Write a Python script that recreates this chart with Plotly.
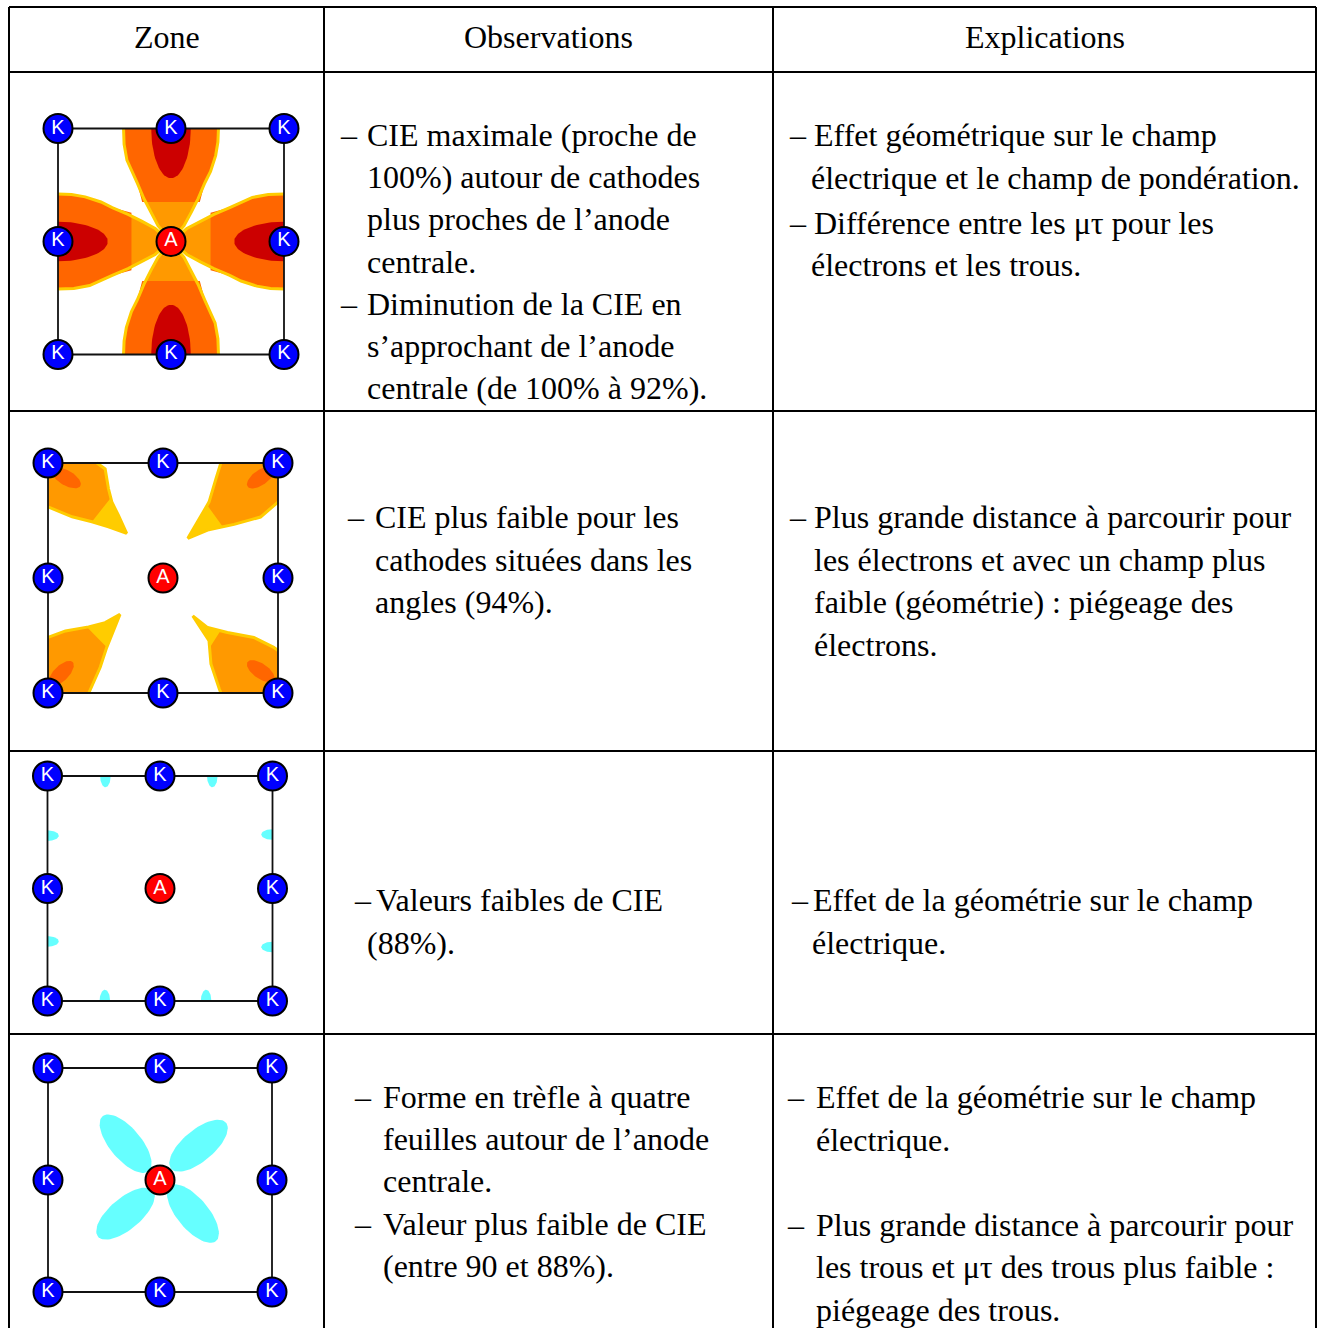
import numpy as np
import plotly.graph_objects as go

# the page margin is removed (post_script below), so figure pixels = window pixels
OFF = 0
W, H = 1320, 1328
SERIF = "Liberation Serif, Times New Roman, serif"
SANS = "Liberation Sans, Arial, sans-serif"

# ---------------- table content ----------------
HEADERS = ["Zone", "Observations", "Explications"]
COL_EDGES = [9, 324, 773, 1316]
ROW_EDGES = [7, 72, 411, 751, 1034]

OBS_TEXT = [
    [["CIE maximale (proche de", "100%) autour de cathodes", "plus proches de l’anode", "centrale."],
     ["Diminution de la CIE en", "s’approchant de l’anode", "centrale (de 100% à 92%)."]],
    [["CIE plus faible pour les", "cathodes situées dans les", "angles (94%)."]],
    [["Valeurs faibles de CIE", "(88%)."]],
    [["Forme en trèfle à quatre", "feuilles autour de l’anode", "centrale."],
     ["Valeur plus faible de CIE", "(entre 90 et 88%)."]],
]
EXP_TEXT = [
    [["Effet géométrique sur le champ", "électrique et le champ de pondération."],
     ["Différence entre les μτ pour les", "électrons et les trous."]],
    [["Plus grande distance à parcourir pour", "les électrons et avec un champ plus",
      "faible (géométrie) : piégeage des", "électrons."]],
    [["Effet de la géométrie sur le champ", "électrique."]],
    [["Effet de la géométrie sur le champ", "électrique."],
     ["Plus grande distance à parcourir pour", "les trous et μτ des trous plus faible :",
      "piégeage des trous."]],
]

# layout of text in cells (window pixels)
OBS_LAYOUT = [
    dict(y0=135, pitch=42.2, gap=0, dash_x=338, text_x=365, cont_x=365),
    dict(y0=517, pitch=42.5, gap=0, dash_x=345, text_x=373, cont_x=373),
    dict(y0=900, pitch=42.5, gap=0, dash_x=352, text_x=374, cont_x=365),
    dict(y0=1097, pitch=42.2, gap=0, dash_x=352, text_x=381, cont_x=381),
]
EXP_LAYOUT = [
    dict(y0=135, pitch=42.5, gap=2.5, dash_x=787, text_x=812, cont_x=809),
    dict(y0=517, pitch=42.7, gap=0, dash_x=787, text_x=812, cont_x=812),
    dict(y0=900, pitch=42.5, gap=0, dash_x=789, text_x=811, cont_x=810),
    dict(y0=1097, pitch=42.6, gap=42.6, dash_x=785, text_x=814, cont_x=814),
]

# ---------------- diagrams data (normalized square -1..1) ----------------
K_X = [-1, 0, 1, -1, 1, -1, 0, 1]
K_Y = [1, 1, 1, 0, 0, -1, -1, -1]
A_X = [0]
A_Y = [0]

# diagram 1: petal (pointing +v), local coords
PETAL_U = [-0.42, -0.415, -0.39, -0.34, -0.30, -0.24, -0.18, -0.115, -0.05, 0.0,
           0.05, 0.115, 0.18, 0.24, 0.30, 0.35, 0.395, 0.415, 0.42]
PETAL_V = [1.0, 0.86, 0.72, 0.60, 0.52, 0.38, 0.26, 0.14, 0.065, 0.05,
           0.065, 0.14, 0.26, 0.38, 0.52, 0.62, 0.76, 0.88, 1.0]
DARK_U = [-0.42, -0.415, -0.39, -0.34, -0.30, -0.255, 0.255, 0.30, 0.35, 0.395, 0.415, 0.42]
DARK_V = [1.0, 0.86, 0.72, 0.60, 0.52, 0.35, 0.35, 0.52, 0.62, 0.76, 0.88, 1.0]
RED_HALF_U = 0.175
RED_HALF_V = 0.44
PETAL_DIRS = [90, 270, 180, 0]

# diagram 2: corner blobs (border path from edge to edge + corner)
CORNER_BLOBS = [
    dict(bx=[-0.575, -0.503, -0.474, -0.445, -0.388, -0.316, -0.474, -0.618, -0.79, -1.0],
         by=[1.0, 0.948, 0.776, 0.661, 0.546, 0.388, 0.445, 0.489, 0.532, 0.618],
         corner=(-1, 1),
         yx=[-0.46, -0.445, -0.388, -0.316, -0.474, -0.618],
         yy=[0.69, 0.661, 0.546, 0.388, 0.445, 0.489],
         ell=(-0.84, 0.87, 0.14, 0.065, -30)),
    dict(bx=[1.0, 0.963, 0.848, 0.618, 0.388, 0.216, 0.316, 0.40, 0.46, 0.503],
         by=[0.66, 0.63, 0.53, 0.466, 0.417, 0.345, 0.517, 0.66, 0.862, 1.0],
         corner=(1, 1),
         yx=[0.39, 0.316, 0.216, 0.388, 0.52],
         yy=[0.625, 0.517, 0.345, 0.417, 0.446],
         ell=(0.85, 0.875, 0.14, 0.065, 35)),
    dict(bx=[-1.0, -0.848, -0.647, -0.503, -0.374, -0.431, -0.489, -0.546, -0.632, -0.645],
         by=[-0.517, -0.46, -0.425, -0.388, -0.316, -0.46, -0.603, -0.776, -0.977, -1.0],
         corner=(-1, -1),
         yx=[-0.66, -0.503, -0.374, -0.431, -0.489],
         yy=[-0.428, -0.388, -0.316, -0.46, -0.603],
         ell=(-0.885, -0.83, 0.14, 0.065, 45)),
    dict(bx=[0.503, 0.489, 0.417, 0.40, 0.259, 0.388, 0.56, 0.79, 0.963, 1.0],
         by=[-1.0, -0.963, -0.747, -0.546, -0.33, -0.431, -0.474, -0.517, -0.603, -0.63],
         corner=(1, -1),
         yx=[0.259, 0.388, 0.50, 0.41, 0.40],
         yy=[-0.33, -0.431, -0.459, -0.60, -0.546],
         ell=(0.85, -0.81, 0.14, 0.065, -35)),
]

# diagram 3: small cyan drops on the edges
EDGE_TOP_X = [-0.485, 0.465]
EDGE_BOTTOM_X = [-0.49, 0.41]
EDGE_LEFT_Y = [0.47, -0.47]
EDGE_RIGHT_Y = [0.48, -0.52]
DROP_HALF_W = 0.047
DROP_DEPTH = 0.10

# diagram 4: four leaves
LEAF_CX = [-0.307, 0.344, -0.308, 0.294]
LEAF_CY = [0.324, 0.306, -0.30, -0.30]
LEAF_ANG = [130, 40, 40, 130]
LEAF_A = 0.32
LEAF_B = 0.14

# diagram placement (center px, half-size px, window coords)
DIAGRAMS = [(171, 241.5, 113), (163, 578, 115), (160, 888.5, 112.5), (160, 1180, 112)]
RNG = 1.15

C_DARKRED = "#CC0000"
C_ORANGE = "#FF6600"
C_LIGHT = "#FF9900"
C_YELLOW = "#FFCC00"
C_CYAN = "#66FFFF"


def ell(cx, cy, a, b, ang, t0=0.0, t1=2 * np.pi, n=72):
    t = np.linspace(t0, t1, n)
    ca, sa = np.cos(np.radians(ang)), np.sin(np.radians(ang))
    x = cx + a * np.cos(t) * ca - b * np.sin(t) * sa
    y = cy + a * np.cos(t) * sa + b * np.sin(t) * ca
    return x, y


def rot(u, v, phi):
    d = np.array([np.cos(np.radians(phi)), np.sin(np.radians(phi))])
    p = np.array([d[1], -d[0]])
    u = np.asarray(u, float)
    v = np.asarray(v, float)
    return u * p[0] + v * d[0], u * p[1] + v * d[1]


fig = go.Figure()


def poly(x, y, color, ax):
    fig.add_trace(go.Scatter(x=list(x), y=list(y), mode="lines", fill="toself",
                             fillcolor=color, line=dict(width=0, color=color),
                             hoverinfo="skip", showlegend=False, xaxis=ax[0], yaxis=ax[1]))


def path(x, y, color, width, ax, clip=True):
    fig.add_trace(go.Scatter(x=list(x), y=list(y), mode="lines",
                             line=dict(width=width, color=color), cliponaxis=clip,
                             hoverinfo="skip", showlegend=False, xaxis=ax[0], yaxis=ax[1]))


# ---------------- table grid ----------------
lx, ly = [], []
for y in ROW_EDGES:
    lx += [COL_EDGES[0], COL_EDGES[-1], None]
    ly += [y, y, None]
for x in COL_EDGES:
    lx += [x, x, None]
    ly += [ROW_EDGES[0], 1340, None]
path(lx, ly, "black", 2, ("x", "y"))

annotations = []
for i, htxt in enumerate(HEADERS):
    annotations.append(dict(x=(COL_EDGES[i] + COL_EDGES[i + 1]) / 2, y=37, text=htxt,
                            xref="x", yref="y", showarrow=False, xanchor="center",
                            yanchor="middle", font=dict(family=SERIF, size=32, color="black")))


def add_cell(bullets, lay):
    y = lay["y0"]
    for bi, bullet in enumerate(bullets):
        if bi > 0:
            y += lay["gap"]
        for li, line in enumerate(bullet):
            if li == 0:
                annotations.append(dict(x=lay["dash_x"], y=y, text="–", xref="x", yref="y",
                                        showarrow=False, xanchor="left", yanchor="middle",
                                        font=dict(family=SERIF, size=32, color="black")))
            annotations.append(dict(x=lay["text_x"] if li == 0 else lay["cont_x"], y=y, text=line,
                                    xref="x", yref="y", showarrow=False, xanchor="left",
                                    yanchor="middle",
                                    font=dict(family=SERIF, size=32, color="black")))
            y += lay["pitch"]


for r in range(4):
    add_cell(OBS_TEXT[r], OBS_LAYOUT[r])
    add_cell(EXP_TEXT[r], EXP_LAYOUT[r])

# ---------------- diagrams ----------------
AX = [("x2", "y2"), ("x3", "y3"), ("x4", "y4"), ("x5", "y5")]

# diagram 1
ax = AX[0]
for phi in PETAL_DIRS:
    x, y = rot(PETAL_U, PETAL_V, phi)
    poly(x, y, C_LIGHT, ax)
    x, y = rot(DARK_U, DARK_V, phi)
    poly(x, y, C_ORANGE, ax)
    t = np.linspace(0, np.pi, 50)
    x, y = rot(RED_HALF_U * np.cos(t), 1 - RED_HALF_V * np.sin(t), phi)
    poly(x, y, C_DARKRED, ax)
    x, y = rot(PETAL_U, PETAL_V, phi)
    path(x, y, C_YELLOW, 3, ax)

# diagram 2
ax = AX[1]
for b in CORNER_BLOBS:
    fx = b["bx"] + [b["corner"][0]]
    fy = b["by"] + [b["corner"][1]]
    poly(fx, fy, C_LIGHT, ax)
    poly(b["yx"], b["yy"], C_YELLOW, ax)
    ex, ey = ell(*b["ell"])
    poly(np.clip(ex, -1, 1), np.clip(ey, -1, 1), C_ORANGE, ax)
    path(b["bx"], b["by"], C_YELLOW, 3, ax)

# diagram 3
ax = AX[2]
t = np.linspace(0, np.pi, 40)
for x0 in EDGE_TOP_X:
    poly(x0 + DROP_HALF_W * np.cos(t), 1 - DROP_DEPTH * np.sin(t), C_CYAN, ax)
for x0 in EDGE_BOTTOM_X:
    poly(x0 + DROP_HALF_W * np.cos(t), -1 + DROP_DEPTH * np.sin(t), C_CYAN, ax)
for y0 in EDGE_LEFT_Y:
    poly(-1 + DROP_DEPTH * np.sin(t), y0 + DROP_HALF_W * np.cos(t), C_CYAN, ax)
for y0 in EDGE_RIGHT_Y:
    poly(1 - DROP_DEPTH * np.sin(t), y0 + DROP_HALF_W * np.cos(t), C_CYAN, ax)

# diagram 4
ax = AX[3]
for cx, cy, ang in zip(LEAF_CX, LEAF_CY, LEAF_ANG):
    ex, ey = ell(cx, cy, LEAF_A, LEAF_B, ang)
    poly(ex, ey, C_CYAN, ax)

# squares and electrodes
for ax in AX:
    path([-1, 1, 1, -1, -1], [1, 1, -1, -1, 1], "#111111", 1.8, ax, clip=False)
    fig.add_trace(go.Scatter(x=K_X, y=K_Y, mode="markers+text", text=["K"] * len(K_X),
                             textposition="middle center",
                             textfont=dict(family=SANS, size=20, color="white"),
                             marker=dict(size=29, color="#0000FF", line=dict(width=2, color="black")),
                             cliponaxis=False, hoverinfo="skip", showlegend=False,
                             xaxis=ax[0], yaxis=ax[1]))
    fig.add_trace(go.Scatter(x=A_X, y=A_Y, mode="markers+text", text=["A"],
                             textposition="middle center",
                             textfont=dict(family=SANS, size=20, color="white"),
                             marker=dict(size=29, color="#FF0000", line=dict(width=2, color="black")),
                             cliponaxis=False, hoverinfo="skip", showlegend=False,
                             xaxis=ax[0], yaxis=ax[1]))

hidden = dict(visible=False, showgrid=False, zeroline=False, fixedrange=True)
layout = dict(
    width=W, height=H, margin=dict(l=0, r=0, t=0, b=0),
    paper_bgcolor="white", plot_bgcolor="rgba(0,0,0,0)",
    xaxis=dict(range=[OFF, OFF + W], domain=[0, 1], **hidden),
    yaxis=dict(range=[OFF + H, OFF], domain=[0, 1], **hidden),
    annotations=annotations, showlegend=False,
)
for i, (cx, cy, h) in enumerate(DIAGRAMS):
    n = i + 2
    fx, fy = cx - OFF, cy - OFF
    layout[f"xaxis{n}"] = dict(range=[-RNG, RNG],
                               domain=[max(0, (fx - RNG * h) / W), min(1, (fx + RNG * h) / W)],
                               anchor=f"y{n}", **hidden)
    layout[f"yaxis{n}"] = dict(range=[-RNG, RNG],
                               domain=[max(0, 1 - (fy + RNG * h) / H), min(1, 1 - (fy - RNG * h) / H)],
                               anchor=f"x{n}", **hidden)
fig.update_layout(**layout)
fig.write_html("out.html", config={"displayModeBar": False},
               post_script="document.body.style.margin='0';document.body.style.overflow='hidden';")
